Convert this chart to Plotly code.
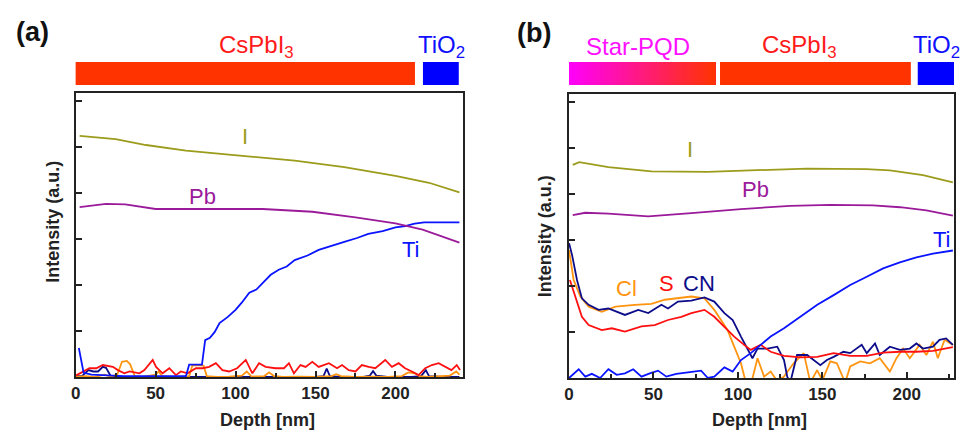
import plotly.graph_objects as go

W, H = 964, 432

# ---------------- Panel (a) data ----------------
a_I_depth = [2.5, 25, 44, 69, 106, 137, 168, 200, 221, 240]
a_I = [5.24, 5.17, 5.04, 4.92, 4.80, 4.70, 4.56, 4.37, 4.22, 4.01]

a_Pb_depth = [2.5, 19, 31, 50, 117, 148, 175, 200, 217, 240]
a_Pb = [3.69, 3.76, 3.75, 3.65, 3.65, 3.59, 3.47, 3.34, 3.20, 2.92]

a_Ti_depth = [2, 5, 10, 20, 30, 40, 50, 60, 69, 71, 79, 81, 84, 87, 90, 95, 100, 104, 108.6, 113,
              117, 122, 127, 132, 137, 145, 152, 160, 168.5, 176, 183, 192, 200, 206, 212, 218, 223, 240]
a_Ti = [0.63, 0.09, 0.05, 0.03, 0.02, 0.02, 0.02, 0.02, 0.02, 0.27, 0.27, 0.80, 0.85, 0.98, 1.17, 1.30, 1.46, 1.62,
        1.83, 1.90, 2.04, 2.22, 2.33, 2.40, 2.54, 2.64, 2.76, 2.84, 2.94, 3.02, 3.11, 3.17, 3.25, 3.28, 3.33, 3.36, 3.36, 3.36]

a_S_depth = [0, 4.5, 8.7, 12.9, 17, 23.3, 26.4, 30.5, 33.7, 39.9, 43, 48.2, 50.3, 54.4, 58.6, 62.7, 65.8, 70,
             75.2, 79.4, 83.5, 87.7, 91.8, 96, 101, 106.4, 110.5, 114.7, 118.8, 125, 130.3, 133.4, 136.5, 140.6,
             143.8, 148, 152, 158.4, 163.5, 166.6, 170.8, 175, 179, 183.3, 187.4, 193.6, 197.8, 202, 206, 210.3,
             214.5, 218.6, 222.8, 227, 231, 235, 238.3, 240.4]
a_S = [0.03, 0.12, 0.19, 0.19, 0.26, 0.22, 0.15, 0.08, 0.12, 0.08, 0.15, 0.37, 0.22, 0.08, 0.19, 0.04, 0.12, 0.08,
       0.19, 0.19, 0.22, 0.30, 0.15, 0.12, 0.19, 0.37, 0.08, 0.30, 0.22, 0.19, 0.19, 0.30, 0.08, 0.26, 0.22, 0.33,
       0.22, 0.30, 0.19, 0.26, 0.15, 0.12, 0.26, 0.22, 0.19, 0.37, 0.22, 0.30, 0.19, 0.12, 0.04, 0.19, 0.26, 0.30,
       0.22, 0.15, 0.26, 0.15]

a_Cl_depth = [0, 6, 12, 18, 22, 26, 29, 32, 34, 37, 42, 46, 50, 52, 54, 60, 66, 71, 73, 76, 80, 82, 88, 96, 104,
              107, 110, 118, 121, 124, 130, 140, 150, 160, 163, 166, 175, 185, 195, 204, 208, 212, 215, 220, 228,
              234, 238, 240]
a_Cl = [0.0, 0.02, 0.0, 0.05, 0.01, 0.05, 0.33, 0.35, 0.28, 0.02, 0.0, 0.02, 0.05, 0.12, 0.02, 0.0, 0.0, 0.02,
        0.25, 0.26, 0.25, 0.02, 0.0, 0.01, 0.03, 0.12, 0.01, 0.02, 0.10, 0.02, 0.0, 0.01, 0.0, 0.02, 0.06, 0.02,
        0.0, 0.01, 0.0, 0.02, 0.10, 0.08, 0.02, 0.0, 0.01, 0.03, 0.12, 0.05]

a_CN_depth = [0, 4, 8, 11, 14, 17, 19, 22, 30, 60, 90, 120, 150, 155, 157, 159, 165, 180, 184, 186, 188, 195,
              210, 216, 219, 221, 230, 240]
a_CN = [0.02, 0.02, 0.15, 0.12, 0.12, 0.22, 0.20, 0.02, 0.0, 0.0, 0.0, 0.0, 0.0, 0.02, 0.18, 0.02, 0.0, 0.0,
        0.03, 0.13, 0.03, 0.0, 0.0, 0.02, 0.15, 0.02, 0.0, 0.0]

# ---------------- Panel (b) data ----------------
b_I_depth = [2.2, 6, 23.3, 48.8, 82, 111, 141, 176, 190, 209.6, 227.3]
b_I = [4.63, 4.69, 4.58, 4.49, 4.48, 4.51, 4.55, 4.54, 4.51, 4.41, 4.25]

b_Pb_depth = [2.2, 9.6, 23.3, 46.9, 72.4, 101.8, 131, 154.7, 180, 196, 211.6, 227.3]
b_Pb = [3.54, 3.59, 3.57, 3.51, 3.58, 3.67, 3.74, 3.76, 3.75, 3.71, 3.64, 3.53]

b_CN_depth = [0, 1.8, 4.7, 7.6, 11.6, 17.5, 23.3, 33.1, 41, 46.9, 54.7, 58.6, 64.5, 72.4, 80.2, 86, 92, 96.9,
              101.8, 105.7, 108.6, 111.6, 117.5, 123.3, 127.3, 129.2, 131, 135, 141, 148.8, 152.7, 156.7, 162.5,
              166.5, 173.3, 176.3, 181.2, 184, 190, 195.9, 201.8, 205.7, 209.6, 215.5, 219.4, 223.3, 227.3]
b_CN = [2.93, 2.67, 2.13, 1.73, 1.59, 1.48, 1.51, 1.37, 1.48, 1.41, 1.59, 1.51, 1.66, 1.68, 1.75, 1.66, 1.41,
        1.26, 0.90, 0.61, 0.43, 0.64, 0.64, 0.68, 0.39, 0.03, -0.10, 0.50, 0.50, 0.28, 0.39, 0.46, 0.57, 0.54,
        0.72, 0.54, 0.75, 0.50, 0.68, 0.61, 0.64, 0.75, 0.64, 0.68, 0.83, 0.86, 0.72]

b_Cl_depth = [0, 2.7, 6.7, 11.6, 19.4, 27.5, 39, 48.8, 56.7, 64.5, 72.4, 80.2, 86, 90, 93.9, 97.8, 101.8, 104.7,
              108, 111.6, 115.5, 119.4, 123, 127, 133, 139, 142.9, 146.9, 150, 154.7, 158.6, 163.5, 166.5, 172.4,
              178.2, 184, 190, 193.9, 197.8, 201.8, 207.6, 211.6, 215.5, 218.4, 222.4, 227.3]
b_Cl = [2.78, 2.13, 1.77, 1.55, 1.44, 1.55, 1.59, 1.61, 1.70, 1.73, 1.77, 1.73, 1.48, 1.26, 1.04, 0.68, 0.32,
        -0.10, -0.10, 0.43, 0.03, 0.14, -0.05, 0.02, 0.32, 0.54, -0.10, 0.17, -0.05, 0.36, 0.32, -0.10, 0.25,
        0.36, 0.32, 0.43, 0.14, 0.43, 0.64, 0.43, 0.72, 0.50, 0.79, 0.43, 0.83, 0.72]

b_S_depth = [0.5, 3.5, 7.6, 11.6, 19.4, 25.3, 33.1, 42.9, 50.7, 58.6, 66.5, 72.4, 80.2, 86, 92, 97.8, 103.7,
             107.6, 113.5, 119.4, 127.3, 137.3, 147, 156.7, 166.5, 176.3, 186, 195.9, 205.7, 215.5, 227.3]
b_S = [2.13, 1.77, 1.33, 1.15, 1.04, 1.08, 1.01, 1.12, 1.15, 1.26, 1.33, 1.41, 1.48, 1.33, 1.12, 0.90, 0.72,
       0.61, 0.72, 0.57, 0.48, 0.45, 0.46, 0.54, 0.48, 0.48, 0.55, 0.57, 0.57, 0.59, 0.67]

b_Ti_depth = [0, 5.7, 9.6, 13.5, 18.4, 23.3, 28.2, 33.1, 38, 42.9, 47.8, 52.7, 57.6, 63.5, 70.4, 78.2, 82.2, 86,
              92, 96.9, 101.8, 107.6, 113.5, 119.4, 127.3, 137.3, 147, 156.7, 166.5, 176.3, 186, 195.9, 205.7,
              215.5, 227.3]
b_Ti = [0.0, 0.19, 0.03, 0.09, 0.0, 0.19, 0.07, 0.10, 0.19, 0.03, 0.10, 0.16, 0.03, 0.09, 0.12, 0.16, 0.0, 0.03,
        0.23, 0.14, 0.39, 0.54, 0.72, 0.90, 1.08, 1.33, 1.59, 1.80, 2.02, 2.20, 2.38, 2.51, 2.62, 2.70, 2.77]

# Layer bars (depth boundaries) and labels
a_layer_names = ["CsPbI<sub>3</sub>", "TiO<sub>2</sub>"]
a_layer_start = [-1.7, 217.2]
a_layer_end = [212.2, 239.6]
a_layer_label_at = [113, 228.5]
b_layer_names = ["Star-PQD", "CsPbI<sub>3</sub>", "TiO<sub>2</sub>"]
b_layer_start = [-1.2, 89.4, 206.5]
b_layer_end = [86.5, 202.4, 228.2]
b_layer_label_at = [40.6, 136.5, 217.6]

x_ticks = [0, 50, 100, 150, 200]

# ---------------- Styles ----------------
FONT = "Liberation Sans, Arial, sans-serif"
C_I, C_PB, C_TI = "#9c9c1c", "#9a1a9a", "#0a14ff"
C_S, C_CL, C_CN = "#ff1010", "#ff9410", "#0c0c8a"
BAR_RED, BAR_BLUE = "#ff3300", "#0000ff"

fig = go.Figure()


def add_line(x, y, color, xa, ya):
    fig.add_trace(go.Scatter(x=x, y=y, mode="lines", line=dict(color=color, width=1.8),
                             xaxis=xa, yaxis=ya, showlegend=False, hoverinfo="skip"))


# panel a (drawing order)
add_line(a_CN_depth, a_CN, C_CN, "x", "y")
add_line(a_Cl_depth, a_Cl, C_CL, "x", "y")
add_line(a_S_depth, a_S, C_S, "x", "y")
add_line(a_Ti_depth, a_Ti, C_TI, "x", "y")
add_line(a_Pb_depth, a_Pb, C_PB, "x", "y")
add_line(a_I_depth, a_I, C_I, "x", "y")
# panel b
add_line(b_Cl_depth, b_Cl, C_CL, "x2", "y2")
add_line(b_CN_depth, b_CN, C_CN, "x2", "y2")
add_line(b_S_depth, b_S, C_S, "x2", "y2")
add_line(b_Ti_depth, b_Ti, C_TI, "x2", "y2")
add_line(b_Pb_depth, b_Pb, C_PB, "x2", "y2")
add_line(b_I_depth, b_I, C_I, "x2", "y2")


def px(x):
    return x / W


def py(y):
    return 1 - y / H


axis_common = dict(showline=True, mirror=True, linecolor="#222222", linewidth=2,
                   ticks="inside", tickcolor="#222222", tickwidth=1.5, ticklen=6,
                   showgrid=False, zeroline=False, fixedrange=True)
xfont = dict(family=FONT, size=17, color="#222222", weight="bold")

fig.update_layout(
    width=W, height=H, margin=dict(l=0, r=0, t=0, b=0),
    paper_bgcolor="white", plot_bgcolor="white",
    xaxis=dict(domain=[px(71), px(460)], range=[0, 242], anchor="y", tickvals=x_ticks,
               tickfont=xfont, minor=dict(dtick=25, ticks="inside", ticklen=4, tickcolor="#222222"),
               **axis_common),
    yaxis=dict(domain=[py(377), py(93)], range=[0, 6.17], anchor="x", dtick=1, showticklabels=False,
               **axis_common),
    xaxis2=dict(domain=[px(567), px(954)], range=[0, 228], anchor="y2", tickvals=x_ticks,
                tickfont=xfont, minor=dict(dtick=25, ticks="inside", ticklen=4, tickcolor="#222222"),
                **axis_common),
    yaxis2=dict(domain=[py(378), py(94)], range=[0, 6.17], anchor="x2", dtick=1, showticklabels=False,
                **axis_common),
)

# ---------- layer bars ----------
bar_y0, bar_y1 = py(85), py(62)
shapes = []
a_colors = [BAR_RED, BAR_BLUE]
for s, e, c in zip(a_layer_start, a_layer_end, a_colors):
    shapes.append(dict(type="rect", xref="x", yref="paper", x0=s, x1=e, y0=bar_y0, y1=bar_y1,
                       fillcolor=c, line=dict(width=0), layer="above"))
# gradient bar for Star-PQD: overlapping slices drawn left to right (no seams)
nseg = 60
s0, e0 = b_layer_start[0], b_layer_end[0]
c_from, c_to = (255, 0, 255), (255, 51, 0)
for i in range(nseg):
    t = (i + 0.5) / nseg
    col = tuple(round(c_from[k] + (c_to[k] - c_from[k]) * t) for k in range(3))
    xa = s0 + (e0 - s0) * i / nseg
    shapes.append(dict(type="rect", xref="x2", yref="paper", x0=xa, x1=e0, y0=bar_y0, y1=bar_y1,
                       fillcolor="rgb(%d,%d,%d)" % col, line=dict(width=0), layer="above"))
for s, e, c in zip(b_layer_start[1:], b_layer_end[1:], [BAR_RED, BAR_BLUE]):
    shapes.append(dict(type="rect", xref="x2", yref="paper", x0=s, x1=e, y0=bar_y0, y1=bar_y1,
                       fillcolor=c, line=dict(width=0), layer="above"))
fig.update_layout(shapes=shapes)

ann = []
layer_font = 24


def A(**kw):
    d = dict(showarrow=False, xanchor="center", yanchor="middle")
    d.update(kw)
    ann.append(d)


a_label_colors = ["#ff1a1a", "#1010ff"]
for name, xc, col in zip(a_layer_names, a_layer_label_at, a_label_colors):
    A(text=name, x=xc, y=py(46), xref="x", yref="paper", font=dict(family=FONT, size=layer_font, color=col))
b_label_colors = ["#ff10ff", "#ff1a1a", "#1010ff"]
for name, xc, col in zip(b_layer_names, b_layer_label_at, b_label_colors):
    A(text=name, x=xc, y=py(46), xref="x2", yref="paper", font=dict(family=FONT, size=layer_font, color=col))

# panel letters
A(text="<b>(a)</b>", x=px(28), y=py(32), xref="paper", yref="paper", font=dict(family=FONT, size=27, color="#111111"))
A(text="<b>(b)</b>", x=px(532), y=py(33), xref="paper", yref="paper", font=dict(family=FONT, size=27, color="#111111"))

# axis titles
title_font = dict(family=FONT, size=18, color="#222222", weight="bold")
A(text="Intensity (a.u.)", x=px(48), y=py(222), xref="paper", yref="paper", textangle=-90, font=title_font)
A(text="Intensity (a.u.)", x=px(543), y=py(236), xref="paper", yref="paper", textangle=-90, font=title_font)
A(text="Depth [nm]", x=px(264), y=py(420), xref="paper", yref="paper", font=title_font)
A(text="Depth [nm]", x=px(758), y=py(420), xref="paper", yref="paper", font=title_font)

# series labels
lab = 22
series_labels = [
    ("I", 106, 5.22, C_I, "x", "y"), ("Pb", 79.4, 3.92, C_PB, "x", "y"), ("Ti", 210, 2.76, C_TI, "x", "y"),
    ("I", 71.8, 4.96, C_I, "x2", "y2"), ("Pb", 110.6, 4.10, C_PB, "x2", "y2"), ("Ti", 221, 3.0, C_TI, "x2", "y2"),
    ("Cl", 34, 1.95, C_CL, "x2", "y2"), ("S", 57.6, 2.06, C_S, "x2", "y2"), ("CN", 77, 2.06, C_CN, "x2", "y2"),
]
for t, xv, yv, col, xa, ya in series_labels:
    A(text=t, x=xv, y=yv, xref=xa, yref=ya, font=dict(family=FONT, size=lab, color=col))

fig.update_layout(annotations=ann)
fig.write_html("out.html")
